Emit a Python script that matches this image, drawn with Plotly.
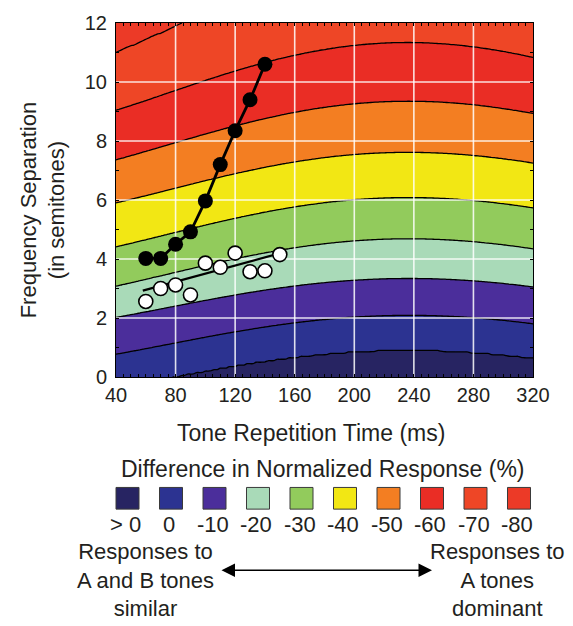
import numpy as np
import plotly.graph_objects as go

# ---------------- data ----------------
# contour boundaries (semitones) at these repetition times, bottom to top
bound_x = [40, 80, 120, 160, 200, 240, 280, 320]
bound_1 = [-0.35, 0.03, 0.38, 0.68, 0.88, 0.90, 0.85, 0.65]
bound_2 = [0.77, 1.16, 1.52, 1.84, 2.04, 2.07, 2.02, 1.80]
bound_3 = [2.02, 2.41, 2.77, 3.09, 3.29, 3.32, 3.27, 3.05]
bound_4 = [3.08, 3.55, 4.00, 4.38, 4.63, 4.66, 4.60, 4.34]
bound_5 = [4.41, 4.91, 5.37, 5.76, 6.03, 6.06, 5.99, 5.73]
bound_6 = [5.90, 6.41, 6.88, 7.29, 7.56, 7.59, 7.52, 7.25]
bound_7 = [7.36, 7.95, 8.50, 8.97, 9.28, 9.32, 9.24, 8.93]
bound_8 = [9.04, 9.72, 10.36, 10.90, 11.26, 11.31, 11.20, 10.83]
bound_9 = [10.99, 11.89, 12.73, 13.45, 13.93, 13.99, 13.84, 13.36]

band_colors = ["#272462", "#2c3391", "#4b2e9b", "#a9dab8", "#92cb5c",
               "#f2e714", "#f37e22", "#ea2d25", "#ee4626", "#ec3a27"]
band_labels = ["> 0", "0", "-10", "-20", "-30", "-40", "-50", "-60", "-70", "-80"]

black_x = [60, 70, 80, 90, 100, 110, 120, 130, 140]
black_y = [4.02, 4.02, 4.50, 4.92, 5.97, 7.20, 8.35, 9.40, 10.60]

white_x = [60, 70, 80, 90, 100, 110, 120, 130, 140, 150]
white_y = [2.56, 3.00, 3.12, 2.78, 3.86, 3.72, 4.20, 3.57, 3.60, 4.15]

white_fit_x = [58, 149]
white_fit_y = [2.93, 4.18]

x_ticks = [40, 80, 120, 160, 200, 240, 280, 320]
y_ticks = [0, 2, 4, 6, 8, 10, 12]

# ---------------- build contour field from boundaries ----------------
bounds = [bound_1, bound_2, bound_3, bound_4, bound_5, bound_6, bound_7, bound_8, bound_9]
gx = np.linspace(40, 320, 141)
gy = np.linspace(0, 12, 241)
curves = [np.polyval(np.polyfit(bound_x, b, 4), gx) for b in bounds]
Z = np.zeros((len(gy), len(gx)))
levels = [0] + list(range(1, 10)) + [10]
for j in range(len(gx)):
    ys = [-50] + [c[j] for c in curves] + [50]
    Z[:, j] = np.interp(gy, ys, levels)

n = len(band_colors)
cscale = [[i / (n - 1), c] for i, c in enumerate(band_colors)]

FONT = "Liberation Sans, Arial, sans-serif"
TXT = "#231f20"

fig = go.Figure()
fig.add_trace(go.Contour(
    x=gx, y=gy, z=Z, autocontour=False,
    contours=dict(start=1, end=9, size=1, coloring="fill"),
    colorscale=cscale, showscale=False,
    line=dict(color="black", width=1.3, smoothing=1.0),
    hoverinfo="skip"))

# white grid lines on top of the contour fill
grid_col = "rgba(255,255,255,0.85)"
for xv in x_ticks[1:-1]:
    fig.add_trace(go.Scatter(x=[xv, xv], y=[y_ticks[0], y_ticks[-1]], mode="lines",
                             line=dict(color=grid_col, width=1.6), hoverinfo="skip",
                             showlegend=False))
for yv in y_ticks[1:-1]:
    fig.add_trace(go.Scatter(x=[x_ticks[0], x_ticks[-1]], y=[yv, yv], mode="lines",
                             line=dict(color=grid_col, width=1.6), hoverinfo="skip",
                             showlegend=False))

fig.add_trace(go.Scatter(x=white_fit_x, y=white_fit_y, mode="lines",
                         line=dict(color="black", width=2.2), showlegend=False))
fig.add_trace(go.Scatter(x=white_x, y=white_y, mode="markers",
                         marker=dict(color="white", size=14,
                                     line=dict(color="black", width=1.6)),
                         showlegend=False))
fig.add_trace(go.Scatter(x=black_x, y=black_y, mode="lines+markers",
                         line=dict(color="black", width=2.8),
                         marker=dict(color="black", size=15), showlegend=False))

W, H = 573, 626
L, R, T, B = 116, 533, 18, 377
def px(x):
    return (x - L) / (R - L)
def py(y):
    return (B - y) / (B - T)

axis_common = dict(showline=True, linecolor="black", linewidth=1, mirror="allticks",
                   ticks="inside", ticklen=3, tickcolor="black", showgrid=False,
                   zeroline=False, tickfont=dict(family=FONT, size=20, color=TXT))
fig.update_xaxes(range=[40, 320], tickvals=x_ticks, ticktext=[str(v) for v in x_ticks],
                 minor=dict(dtick=5, ticks="inside", ticklen=3, tickcolor="black"),
                 **axis_common)
fig.update_yaxes(range=[0, 12], tickvals=y_ticks, ticktext=[str(v) for v in y_ticks],
                 minor=dict(dtick=1, ticks="inside", ticklen=3, tickcolor="black"),
                 ticklabelstandoff=4, **axis_common)

def note(x, y, text, size, **kw):
    d = dict(x=px(x), y=py(y), xref="paper", yref="paper", showarrow=False,
             xanchor="center", yanchor="middle", text=text,
             font=dict(family=FONT, size=size, color=TXT))
    d.update(kw)
    return d

ann = []
ann.append(note(311, 434, "Tone Repetition Time (ms)", 23))
ann.append(note(43, 208, "Frequency Separation<br>(in semitones)", 22, textangle=-90))
ann.append(note(323, 470, "Difference in Normalized Response (%)", 23))

shapes = []
sq_x0, sq_dx, sq_w = 116, 43.5, 23
for i, (c, lab) in enumerate(zip(band_colors, band_labels)):
    x0 = sq_x0 + i * sq_dx
    shapes.append(dict(type="rect", xref="paper", yref="paper",
                       x0=px(x0), x1=px(x0 + sq_w), y0=py(489), y1=py(511),
                       fillcolor=c, line=dict(color="#3a3a3a", width=1)))
    ann.append(note(x0 + sq_w / 2 - 2, 527, lab, 22))

ann.append(note(145, 583, "Responses to<br>A and B tones<br>similar", 22, align="center"))
ann.append(note(497, 583, "Responses to<br>A tones<br>dominant", 22, align="center"))
ann.append(dict(x=px(432), y=py(573), xref="paper", yref="paper", showarrow=True,
                ax=-212, ay=0, text="", arrowhead=2, startarrowhead=2,
                arrowside="end+start", arrowsize=1.8, arrowwidth=1.5, arrowcolor="black"))

fig.update_layout(width=W, height=H, margin=dict(l=L, r=W - R, t=T, b=H - B),
                  paper_bgcolor="white", plot_bgcolor="white",
                  annotations=ann, shapes=shapes, showlegend=False)

fig.write_html("out.html")
